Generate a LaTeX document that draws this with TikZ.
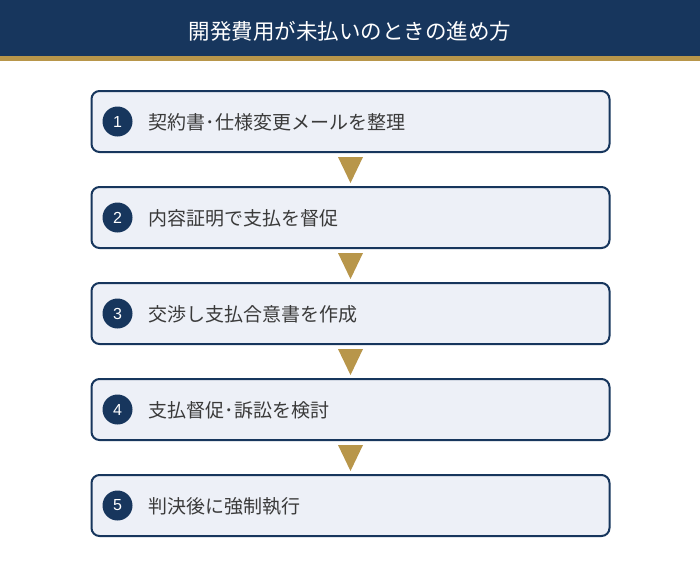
\documentclass[tikz,border=0pt]{standalone}
\usepackage{fontspec}
\usetikzlibrary{calc}
\setmainfont{Noto Sans CJK JP}
\newfontfamily\numfont{Liberation Sans}
\definecolor{navy}{HTML}{17365D}
\definecolor{gold}{HTML}{B8964A}
\definecolor{boxfill}{HTML}{EDF0F7}
\definecolor{txt}{HTML}{3A3A3A}
\tikzset{
  stepbox/.style={draw=navy, line width=2pt, fill=boxfill, rounded corners=8pt,
    minimum width=518pt, minimum height=61pt, inner sep=0pt},
  numdot/.style={circle, fill=navy, minimum size=30pt, inner sep=0pt,
    text=white, font=\numfont\fontsize{16pt}{16pt}\selectfont},
  steptext/.style={anchor=west, inner sep=0pt, text=txt,
    font=\fontsize{19pt}{22pt}\selectfont},
  arrowtri/.style={fill=gold, draw=none}
}
\begin{document}
\begin{tikzpicture}[x=1pt,y=-1pt]
\useasboundingbox (0,0) rectangle (700,566);
\fill[white] (0,0) rectangle (700,566);
\fill[navy] (0,0) rectangle (700,55.5);
\fill[gold] (0,55.5) rectangle (700,60.5);
\node[text=white, font=\fontsize{21.5pt}{24pt}\selectfont] (title) at (350,31) {開発費用が未払いのときの進め方};
\foreach \i/\y/\t in {1/121.5/契約書･仕様変更メールを整理,
                      2/217.5/内容証明で支払を督促,
                      3/313.5/交渉し支払合意書を作成,
                      4/409.5/支払督促･訴訟を検討,
                      5/505.5/判決後に強制執行}{
  \node[stepbox] (b\i) at (350.5,\y) {};
  \node[numdot] (n\i) at (117.5,\y) {\i};
  \node[steptext] (t\i) at (148.5,\y+1) {\t};
}
\foreach \a/\b in {1/2,2/3,3/4,4/5}{
  \path (b\a.south) ++(0,4) coordinate (ta\a);
  \fill[arrowtri] ($(ta\a)+(-12.5,0)$) -- ($(ta\a)+(12.5,0)$) -- ($(ta\a)+(0,26)$) -- cycle;
}
\end{tikzpicture}
\end{document}
